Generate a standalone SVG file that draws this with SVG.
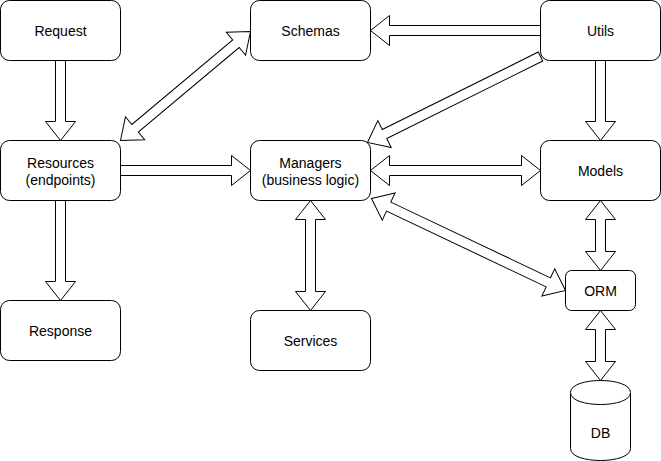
<svg xmlns="http://www.w3.org/2000/svg" width="661" height="461" viewBox="0 0 661 461">
<style>
.node{fill:#ffffff;stroke:#000000;stroke-width:1}
.arr{fill:#ffffff;stroke:#000000;stroke-width:1;stroke-linejoin:miter}
.lbl{font-family:"Liberation Sans",Arial,Helvetica,sans-serif;font-size:14px;fill:#000000;text-anchor:middle}
</style>
<rect width="661" height="461" fill="#ffffff"/>
<g transform="translate(0.5,0.5)">
<g id="request"><rect class="node" x="0" y="0" width="120" height="60" rx="9" ry="9"/><text class="lbl" x="60" y="35">Request</text></g>
<g id="schemas"><rect class="node" x="250" y="0" width="120" height="60" rx="9" ry="9"/><text class="lbl" x="310" y="35">Schemas</text></g>
<g id="utils"><rect class="node" x="540" y="0" width="120" height="60" rx="9" ry="9"/><text class="lbl" x="600" y="35">Utils</text></g>
<g id="resources"><rect class="node" x="0" y="140" width="120" height="60" rx="9" ry="9"/><text class="lbl" x="60" y="167">Resources</text><text class="lbl" x="60" y="184">(endpoints)</text></g>
<g id="managers"><rect class="node" x="250" y="140" width="120" height="60" rx="9" ry="9"/><text class="lbl" x="310" y="167">Managers</text><text class="lbl" x="310" y="184">(business logic)</text></g>
<g id="models"><rect class="node" x="540" y="140" width="120" height="60" rx="9" ry="9"/><text class="lbl" x="600" y="175">Models</text></g>
<g id="response"><rect class="node" x="0" y="300" width="120" height="60" rx="9" ry="9"/><text class="lbl" x="60" y="335">Response</text></g>
<g id="services"><rect class="node" x="250" y="310" width="120" height="60" rx="9" ry="9"/><text class="lbl" x="310" y="345">Services</text></g>
<g id="orm"><rect class="node" x="565" y="270" width="70" height="40" rx="6" ry="6"/><text class="lbl" x="600" y="295">ORM</text></g>
<g id="db"><path class="node" d="M570,392 C570,376 630,376 630,392 L630,448 C630,464 570,464 570,448 Z"/><path class="node" fill="none" d="M570,392 C570,408 630,408 630,392"/><text class="lbl" x="600" y="437">DB</text></g>
<g id="connectors">
<polygon class="arr" points="55,60 55,121 45,121 60,140 75,121 65,121 65,60"/>
<polygon class="arr" points="55,200 55,281 45,281 60,300 75,281 65,281 65,200"/>
<polygon class="arr" points="120,165 231,165 231,155 250,170 231,185 231,175 120,175"/>
<polygon class="arr" points="540,25 389,25 389,15 370,30 389,45 389,35 540,35"/>
<polygon class="arr" points="595,60 595,121 585,121 600,140 615,121 605,121 605,60"/>
<polygon class="arr" points="370,170 389,155 389,165 521,165 521,155 540,170 521,185 521,175 389,175 389,185"/>
<polygon class="arr" points="310,200 325,219 315,219 315,291 325,291 310,310 295,291 305,291 305,219 295,219"/>
<polygon class="arr" points="600,200 615,219 605,219 605,251 615,251 600,270 585,251 595,251 595,219 585,219"/>
<polygon class="arr" points="600,310 615,329 605,329 605,361 615,361 600,380 585,361 595,361 595,329 585,329"/>
<polygon class="arr" transform="translate(120,140) rotate(-39.98)" points="0,0 19,-15 19,-5 150.65,-5 150.65,-15 169.65,0 150.65,15 150.65,5 19,5 19,15"/>
<polygon class="arr" transform="translate(540,56) rotate(153.57)" points="0,-5 174.2,-5 174.2,-15 193.2,0 174.2,15 174.2,5 0,5"/>
<polygon class="arr" transform="translate(371,198) rotate(25.37)" points="0,0 19,-15 19,-5 195.71,-5 195.71,-15 214.71,0 195.71,15 195.71,5 19,5 19,15"/>
</g>
</g>
</svg>
